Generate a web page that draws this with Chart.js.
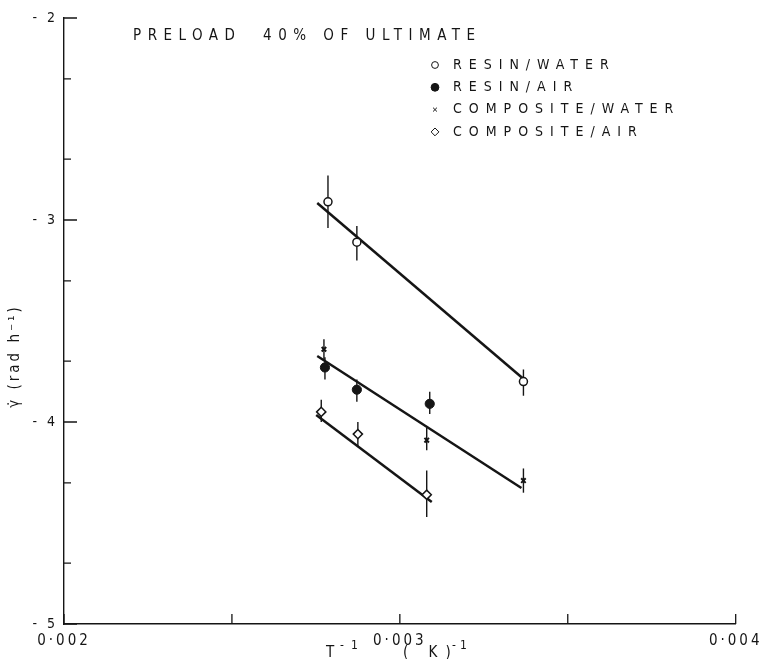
<!DOCTYPE html>
<html>
<head>
<meta charset="utf-8">
<script src="https://cdn.jsdelivr.net/npm/chart.js@4.4.1/dist/chart.umd.min.js"></script>
<style>
  html, body { margin: 0; padding: 0; background: #fff; }
  #canvas { display: block; }
</style>
</head>
<body>
<canvas id="canvas" width="763" height="659"></canvas>
<script>
// axis ticks
const xTickValues = [0.002, 0.003, 0.004];
const xMinorTicks = [0.0025, 0.0035];
const yTickValues = [-2, -3, -4, -5];
const yMinorTicks = [-2.301, -2.699, -3.301, -3.699, -4.301, -4.699];

// resin / water (open circles)
const resinWaterX = [0.002786, 0.002872, 0.003368];
const resinWaterY = [-2.91, -3.11, -3.80];
const resinWaterHi = [-2.78, -3.03, -3.74];
const resinWaterLo = [-3.04, -3.20, -3.87];

// resin / air (filled circles)
const resinAirX = [0.002777, 0.002872, 0.003089];
const resinAirY = [-3.73, -3.84, -3.91];
const resinAirHi = [-3.68, -3.79, -3.85];
const resinAirLo = [-3.79, -3.90, -3.96];

// composite / water (crosses)
const compWaterX = [0.002774, 0.00308, 0.003368];
const compWaterY = [-3.64, -4.09, -4.29];
const compWaterHi = [-3.59, -4.03, -4.23];
const compWaterLo = [-3.69, -4.14, -4.35];

// composite / air (diamonds)
const compAirX = [0.002766, 0.002875, 0.00308];
const compAirY = [-3.95, -4.06, -4.36];
const compAirHi = [-3.89, -4.00, -4.24];
const compAirLo = [-4.00, -4.12, -4.47];

// fitted lines
const fitUpperX = [0.002754, 0.003365];
const fitUpperY = [-2.916, -3.782];
const fitMiddleX = [0.002754, 0.003362];
const fitMiddleY = [-3.673, -4.327];
const fitLowerX = [0.002751, 0.003095];
const fitLowerY = [-3.965, -4.396];

const titleText = 'PRELOAD  40% OF ULTIMATE';
const legendLabels = ['RESIN/WATER', 'RESIN/AIR', 'COMPOSITE/WATER', 'COMPOSITE/AIR'];

const INK = '#151515';
const FONT = '"Liberation Sans Narrow", "DejaVu Sans Condensed", "DejaVu Sans", sans-serif';

const toPoints = (xs, ys) => xs.map((x, i) => ({ x, y: ys[i] }));

const markerStyles = [
  { pointStyle: 'circle', radius: 4, borderWidth: 1.5, fill: '#fff' },
  { pointStyle: 'circle', radius: 4.6, borderWidth: 1, fill: INK },
  { pointStyle: 'crossRot', radius: 3.2, borderWidth: 2, fill: INK },
  { pointStyle: 'rectRot', radius: 4.6, borderWidth: 1.5, fill: '#fff' },
];

const errorSets = [
  { x: resinWaterX, hi: resinWaterHi, lo: resinWaterLo },
  { x: resinAirX, hi: resinAirHi, lo: resinAirLo },
  { x: compWaterX, hi: compWaterHi, lo: compWaterLo },
  { x: compAirX, hi: compAirHi, lo: compAirLo },
];

class PreloadChart {
  constructor(canvas) {
    this.canvas = canvas;
    this._createDatasets();
    this._createPlugin();
    this._createConfig();
    this.chart = new Chart(this.canvas.getContext('2d'), this.config);
  }

  _markerDataset(xs, ys, style) {
    return {
      data: toPoints(xs, ys),
      pointStyle: style.pointStyle,
      pointRadius: style.radius,
      pointBorderWidth: style.borderWidth,
      pointBorderColor: INK,
      pointBackgroundColor: style.fill,
      showLine: false,
      order: 1,
    };
  }

  _lineDataset(xs, ys) {
    return {
      data: toPoints(xs, ys),
      showLine: true,
      borderColor: INK,
      borderWidth: 2.5,
      pointRadius: 0,
      order: 2,
    };
  }

  _createDatasets() {
    this.datasets = [
      this._markerDataset(resinWaterX, resinWaterY, markerStyles[0]),
      this._markerDataset(resinAirX, resinAirY, markerStyles[1]),
      this._markerDataset(compWaterX, compWaterY, markerStyles[2]),
      this._markerDataset(compAirX, compAirY, markerStyles[3]),
      this._lineDataset(fitUpperX, fitUpperY),
      this._lineDataset(fitMiddleX, fitMiddleY),
      this._lineDataset(fitLowerX, fitLowerY),
    ];
  }

  _createPlugin() {
    this.plugin = {
      id: 'paperMarks',
      beforeDraw: (chart) => { chart.ctx.letterSpacing = '3px'; },
      beforeDatasetsDraw: (chart) => this._drawErrorBars(chart),
      afterDraw: (chart) => {
        this._drawInwardTicks(chart);
        this._drawTexts(chart);
        chart.ctx.letterSpacing = '0px';
      },
    };
  }

  _drawErrorBars(chart) {
    const { ctx, scales } = chart;
    ctx.save();
    ctx.strokeStyle = INK;
    ctx.lineWidth = 1.4;
    errorSets.forEach((set) => {
      set.x.forEach((x, i) => {
        const px = scales.x.getPixelForValue(x);
        ctx.beginPath();
        ctx.moveTo(px, scales.y.getPixelForValue(set.hi[i]));
        ctx.lineTo(px, scales.y.getPixelForValue(set.lo[i]));
        ctx.stroke();
      });
    });
    ctx.restore();
  }

  _drawInwardTicks(chart) {
    const { ctx, scales, chartArea } = chart;
    ctx.save();
    ctx.strokeStyle = INK;
    ctx.lineWidth = 1.3;
    ctx.beginPath();
    yTickValues.forEach((v) => {
      const py = scales.y.getPixelForValue(v);
      ctx.moveTo(chartArea.left, py);
      ctx.lineTo(chartArea.left + 13, py);
    });
    yMinorTicks.forEach((v) => {
      const py = scales.y.getPixelForValue(v);
      ctx.moveTo(chartArea.left, py);
      ctx.lineTo(chartArea.left + 7, py);
    });
    xTickValues.concat(xMinorTicks).forEach((v) => {
      const px = scales.x.getPixelForValue(v);
      ctx.moveTo(px, chartArea.bottom);
      ctx.lineTo(px, chartArea.bottom - 10);
    });
    ctx.stroke();
    ctx.restore();
  }

  _drawTexts(chart) {
    const { ctx } = chart;
    ctx.save();
    ctx.fillStyle = INK;
    ctx.textBaseline = 'middle';
    ctx.textAlign = 'left';

    ctx.font = '15px ' + FONT;
    ctx.letterSpacing = '6.5px';
    ctx.fillText(titleText, 133, 36);

    ctx.font = '14px ' + FONT;
    ctx.letterSpacing = '7px';
    legendLabels.forEach((label, i) => {
      const y = 65 + i * 22.3;
      const style = markerStyles[i];
      ctx.fillStyle = style.fill;
      ctx.strokeStyle = INK;
      Chart.helpers.drawPoint(ctx, {
        pointStyle: style.pointStyle,
        radius: style.radius * 0.85,
        rotation: 0,
        borderWidth: style.borderWidth,
      }, 435, y);
      ctx.fillStyle = INK;
      ctx.fillText(label, 453, y);
    });

    // x axis title: T^-1 ( K)^-1
    ctx.font = '15px ' + FONT;
    ctx.letterSpacing = '0px';
    ctx.fillText('T', 326, 653);
    ctx.letterSpacing = '8px';
    ctx.fillText('( K)', 403, 653);
    ctx.font = '12px ' + FONT;
    ctx.letterSpacing = '7px';
    ctx.fillText('-1', 340, 646);
    ctx.letterSpacing = '4px';
    ctx.fillText('-1', 452, 646);

    // y axis title
    ctx.letterSpacing = '3px';
    ctx.translate(15, 356);
    ctx.rotate(-Math.PI / 2);
    ctx.textAlign = 'center';
    ctx.font = '15px ' + FONT;
    ctx.fillText('\u03B3\u0307 (rad h\u207B\u00B9)', 0, 0);
    ctx.restore();
  }

  _createConfig() {
    this.config = {
      type: 'scatter',
      data: { datasets: this.datasets },
      plugins: [this.plugin],
      options: {
        responsive: false,
        animation: false,
        events: [],
        layout: { padding: { left: 0, right: 25, top: 18, bottom: 0 } },
        plugins: { legend: { display: false }, tooltip: { enabled: false } },
        scales: {
          x: {
            type: 'linear',
            min: 0.002,
            max: 0.004,
            afterBuildTicks: (scale) => {
              scale.ticks = xTickValues.map((value) => ({ value }));
            },
            afterFit: (scale) => { scale.height = 35; },
            grid: { display: false, drawTicks: false },
            border: { display: true, color: INK, width: 1.6 },
            ticks: {
              autoSkip: false,
              maxRotation: 0,
              padding: 8,
              color: INK,
              font: { size: 15, family: FONT },
              callback: (v) => v.toFixed(3).replace('.', '\u00B7'),
            },
          },
          y: {
            type: 'linear',
            min: -5,
            max: -2,
            afterBuildTicks: (scale) => {
              scale.ticks = yTickValues.map((value) => ({ value }));
            },
            afterFit: (scale) => { scale.width = 64; },
            grid: { display: false, drawTicks: false },
            border: { display: true, color: INK, width: 1.4 },
            ticks: {
              padding: 6,
              color: INK,
              font: { size: 14, family: FONT },
              callback: (v) => '- ' + Math.abs(v),
            },
          },
        },
      },
    };
  }
}

new PreloadChart(document.getElementById('canvas'));
</script>
</body>
</html>
